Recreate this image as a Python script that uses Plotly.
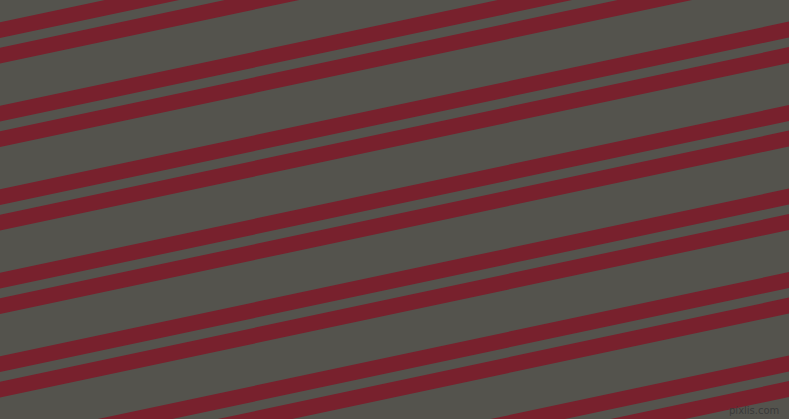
import numpy as np
import plotly.graph_objects as go

W, H = 789, 419

bg_color = "#54534d"
stripe_color = "#78212d"
angle_deg = 12.0
period = 83.5
pair_offsets = [22.3, 47.8]
stripe_height = 15.8

slope = np.tan(np.radians(angle_deg))
x_edges = [0, W]

fig = go.Figure()

# one filled band per stripe, from each pair offset repeated every period
n_lo = -2
n_hi = int((H + slope * W) / period) + 2
for n in range(n_lo, n_hi):
    for off in pair_offsets:
        top = off + n * period
        xs = [x_edges[0], x_edges[1], x_edges[1], x_edges[0], x_edges[0]]
        ys = [top, top - slope * W, top - slope * W + stripe_height,
              top + stripe_height, top]
        fig.add_trace(go.Scatter(x=xs, y=ys, mode="lines", fill="toself",
                                 fillcolor=stripe_color, line=dict(width=0),
                                 hoverinfo="skip", showlegend=False))

fig.add_annotation(x=781, y=410, xref="x", yref="y", text="pixlis.com",
                   showarrow=False, xanchor="right", yanchor="middle",
                   font=dict(family="DejaVu Sans", size=10, color="#3a3a3a"))

fig.update_layout(
    width=W, height=H,
    margin=dict(l=0, r=0, t=0, b=0),
    paper_bgcolor=bg_color, plot_bgcolor=bg_color,
    xaxis=dict(range=[0, W], visible=False, fixedrange=True),
    yaxis=dict(range=[H, 0], visible=False, fixedrange=True),
)

# page body has a default margin, drop it so the figure fills the window
page_js = ("document.body.style.margin='0';"
           "document.body.style.overflow='hidden';"
           "document.body.style.background='" + bg_color + "';")

fig.write_html("out.html", config={"displayModeBar": False}, post_script=page_js)
